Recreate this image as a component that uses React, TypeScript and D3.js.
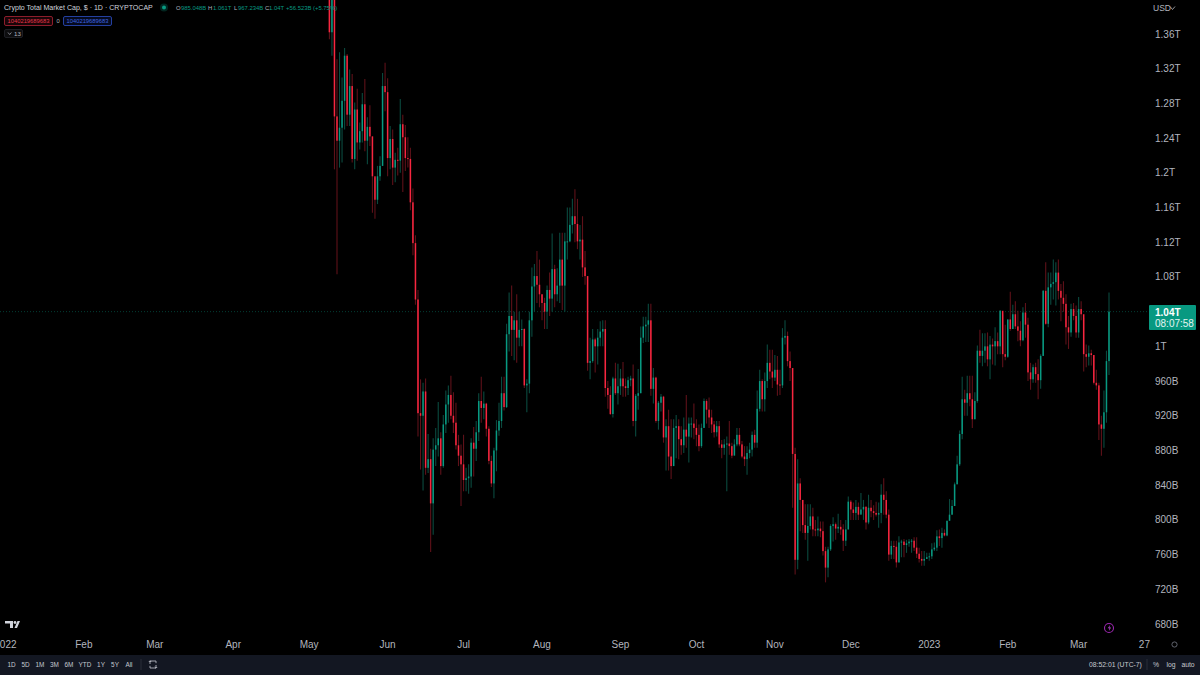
import { useRef, useEffect } from "react";
import * as d3 from "d3";

// daily candles, billions of USD, one per day from the first date on
const firstDay = "2022-05-09";
const firstOpen = 1480;

const closes = [
  1362, 1410, 1265, 1237, 1252, 1283, 1335, 1267, 1300, 1216,
  1273, 1235, 1248, 1279, 1237, 1253, 1242, 1196, 1169, 1196,
  1208, 1300, 1293, 1217, 1239, 1206, 1215, 1214, 1256, 1241,
  1217, 1216, 1166, 1119, 1054, 923, 920, 948, 860, 870,
  819, 881, 886, 894, 862, 910, 933, 944, 920, 912,
  886, 874, 864, 846, 848, 850, 889, 882, 901, 937,
  929, 934, 905, 868, 842, 880, 903, 914, 946, 930,
  1014, 1035, 1019, 1030, 1010, 1019, 1020, 955, 957, 1030,
  1069, 1081, 1071, 1060, 1050, 1040, 1065, 1055, 1089, 1060,
  1070, 1100, 1070, 1121, 1121, 1140, 1150, 1141, 1121, 1123,
  1091, 1081, 981, 983, 1008, 1000, 1010, 1017, 1020, 952,
  944, 922, 963, 946, 954, 963, 954, 952, 961, 963,
  914, 943, 946, 1010, 1023, 1025, 1030, 951, 964, 914,
  935, 942, 895, 908, 873, 862, 906, 908, 893, 886,
  904, 896, 911, 911, 906, 898, 885, 906, 937, 927,
  918, 910, 901, 908, 887, 883, 887, 888, 885, 874,
  887, 898, 887, 873, 870, 877, 881, 898, 889, 928,
  960, 939, 960, 981, 971, 964, 973, 956, 955, 1010,
  1012, 983, 975, 876, 754, 842, 823, 794, 785, 793,
  804, 789, 788, 790, 787, 764, 745, 766, 793, 795,
  790, 792, 789, 776, 789, 821, 812, 808, 815, 806,
  812, 815, 797, 814, 810, 808, 806, 808, 829, 823,
  806, 760, 770, 769, 751, 774, 775, 771, 773, 775,
  776, 768, 761, 755, 753, 755, 757, 758, 766, 768,
  781, 779, 785, 782, 799, 806, 816, 841, 864, 899,
  939, 935, 946, 939, 916, 937, 995, 989, 995, 1000,
  985, 1002, 1000, 1006, 1000, 1041, 991, 988, 1031, 1020,
  1037, 1023, 1018, 1007, 1039, 1025, 970, 962, 976, 968,
  961, 989, 1064, 1026, 1068, 1072, 1074, 1085, 1064, 1056,
  1049, 1022, 1016, 1043, 1035, 1016, 1043, 1037, 991, 988,
  992, 990, 958, 955, 910, 905, 924, 983, 1040,
];

const highs = [
  1500, 1450, 1420, 1331, 1339, 1310, 1344, 1337, 1319, 1314,
  1281, 1297, 1258, 1292, 1308, 1264, 1278, 1242, 1194, 1208,
  1219, 1315, 1327, 1309, 1254, 1250, 1223, 1229, 1285, 1267,
  1255, 1241, 1229, 1182, 1128, 1065, 962, 958, 963, 899,
  882, 894, 906, 936, 901, 921, 949, 955, 966, 947,
  935, 898, 887, 898, 860, 864, 894, 907, 914, 946,
  965, 948, 935, 908, 874, 883, 915, 935, 965, 965,
  1026, 1062, 1070, 1040, 1060, 1040, 1031, 1021, 962, 1040,
  1091, 1095, 1110, 1100, 1060, 1056, 1070, 1085, 1130, 1094,
  1090, 1131, 1131, 1131, 1160, 1160, 1170, 1181, 1170, 1140,
  1150, 1110, 1081, 1010, 1020, 1010, 1020, 1029, 1030, 1030,
  960, 954, 965, 981, 980, 974, 982, 963, 965, 966,
  979, 945, 974, 1023, 1034, 1034, 1049, 1049, 975, 965,
  937, 945, 943, 916, 927, 916, 916, 921, 916, 908,
  918, 944, 918, 918, 934, 916, 910, 911, 940, 939,
  941, 927, 914, 914, 914, 892, 893, 896, 914, 889,
  893, 906, 906, 891, 885, 885, 889, 902, 904, 949,
  973, 962, 970, 1002, 996, 996, 990, 989, 973, 1021,
  1030, 1017, 994, 975, 883, 870, 848, 823, 818, 818,
  818, 814, 800, 804, 798, 798, 769, 769, 795, 803,
  797, 807, 800, 795, 800, 827, 823, 820, 823, 820,
  831, 823, 816, 829, 823, 817, 821, 820, 841, 848,
  833, 812, 776, 776, 776, 781, 777, 778, 777, 778,
  778, 780, 780, 768, 764, 764, 762, 762, 773, 774,
  788, 789, 791, 789, 799, 824, 823, 843, 874, 903,
  965, 950, 966, 966, 966, 947, 1001, 1019, 1015, 1015,
  1016, 1012, 1009, 1022, 1016, 1042, 1037, 1025, 1031, 1063,
  1048, 1052, 1041, 1029, 1045, 1050, 1033, 981, 979, 981,
  985, 991, 1065, 1097, 1085, 1085, 1100, 1097, 1100, 1072,
  1075, 1060, 1035, 1049, 1050, 1047, 1057, 1052, 1033, 1002,
  1001, 996, 990, 973, 958, 920, 949, 995, 1062,
];

const lows = [
  1354, 1335, 1204, 1083, 1206, 1212, 1250, 1254, 1254, 1212,
  1204, 1214, 1227, 1235, 1225, 1210, 1231, 1154, 1147, 1164,
  1191, 1208, 1271, 1196, 1204, 1186, 1189, 1197, 1200, 1178,
  1202, 1206, 1157, 1105, 1048, 896, 858, 834, 852, 854,
  763, 783, 862, 873, 852, 860, 900, 912, 916, 900,
  881, 862, 816, 833, 833, 830, 837, 850, 868, 891,
  912, 916, 896, 864, 838, 825, 856, 897, 906, 926,
  929, 994, 989, 984, 981, 1000, 1000, 952, 924, 946,
  1011, 1040, 1050, 1045, 1030, 1020, 1020, 1035, 1040, 1045,
  1052, 1050, 1042, 1040, 1100, 1120, 1130, 1120, 1112, 1100,
  1080, 1071, 972, 962, 981, 970, 979, 1000, 1000, 942,
  928, 921, 918, 944, 933, 944, 942, 942, 944, 954,
  908, 896, 927, 946, 1004, 1005, 1005, 943, 934, 912,
  904, 925, 889, 857, 857, 847, 862, 871, 870, 875,
  877, 883, 866, 895, 893, 885, 879, 883, 906, 911,
  906, 900, 895, 896, 883, 871, 875, 833, 875, 871,
  875, 885, 885, 871, 862, 852, 871, 873, 883, 883,
  925, 925, 925, 952, 962, 952, 960, 943, 944, 952,
  1002, 977, 960, 814, 737, 743, 787, 785, 777, 753,
  789, 781, 781, 781, 780, 759, 728, 734, 764, 775,
  777, 785, 783, 764, 770, 789, 800, 800, 800, 800,
  807, 800, 789, 795, 803, 800, 804, 791, 796, 806,
  802, 753, 755, 755, 745, 751, 757, 757, 762, 769,
  762, 764, 756, 751, 747, 747, 755, 753, 755, 764,
  764, 770, 768, 781, 781, 799, 806, 816, 841, 862,
  893, 920, 920, 931, 906, 916, 935, 981, 977, 981,
  977, 962, 979, 978, 991, 991, 976, 984, 987, 1018,
  1020, 1020, 1006, 1000, 1006, 1010, 960, 950, 958, 958,
  939, 951, 989, 1025, 1022, 1048, 1054, 1047, 1054, 1029,
  1040, 1002, 997, 1011, 1030, 1010, 1010, 1030, 971, 976,
  978, 978, 956, 950, 892, 874, 883, 912, 967,
];

const priceTicks = [1360, 1320, 1280, 1240, 1200, 1160, 1120, 1080, 1000, 960, 920, 880, 840, 800, 760, 720, 680];
const timeTicks = [
  ["2022-01-01", "2022"], ["2022-02-01", "Feb"], ["2022-03-01", "Mar"], ["2022-04-01", "Apr"],
  ["2022-05-01", "May"], ["2022-06-01", "Jun"], ["2022-07-01", "Jul"], ["2022-08-01", "Aug"],
  ["2022-09-01", "Sep"], ["2022-10-01", "Oct"], ["2022-11-01", "Nov"], ["2022-12-01", "Dec"],
  ["2023-01-01", "2023"], ["2023-02-01", "Feb"], ["2023-03-01", "Mar"], ["2023-03-27", "27"],
];
const rangeButtons = ["1D", "5D", "1M", "3M", "6M", "YTD", "1Y", "5Y", "All"];
const lastPrice = 1040;

const FONT = "'Liberation Sans', Arial, sans-serif";
const UP = "#089981";
const DOWN = "#f7263f";
const UP_WICK = "#0a4a3f";
const DOWN_WICK = "#5e1119";
const TEXT = "#b2b5be";

const formatPrice = (v: number) => (v >= 1000 ? `${d3.format(".3~f")(v / 1000)}T` : `${v}B`);

export default function App() {
  const svgRef = useRef<SVGSVGElement>(null);

  useEffect(() => {
    const svg = d3.select(svgRef.current);
    svg.selectAll("*").remove();

    const width = 1200;
    const height = 675;
    const day = (s: string) => d3.utcParse("%Y-%m-%d")(s) as Date;

    const start = day(firstDay);
    const end = d3.utcDay.offset(start, closes.length - 1);
    const x = d3.scaleUtc().domain([start, end]).range([329.4, 1109]);
    const y = d3.scaleLinear().domain([680, 1360]).range([624, 34]);

    svg.append("rect").attr("width", width).attr("height", height).attr("fill", "#000");

    const candles = closes.map((close, i) => ({
      date: d3.utcDay.offset(start, i),
      open: i === 0 ? firstOpen : closes[i - 1],
      close,
      high: highs[i],
      low: lows[i],
    }));

    // Línea de último precio
    svg.append("line")
      .attr("x1", 0).attr("x2", 1149)
      .attr("y1", y(lastPrice)).attr("y2", y(lastPrice))
      .attr("stroke", UP).attr("stroke-opacity", 0.4)
      .attr("stroke-dasharray", "1,2");

    // Velas
    const g = svg.append("g");
    g.selectAll("line.wick")
      .data(candles)
      .join("line")
      .attr("class", "wick")
      .attr("x1", (d) => x(d.date)).attr("x2", (d) => x(d.date))
      .attr("y1", (d) => y(d.high)).attr("y2", (d) => y(d.low))
      .attr("stroke", (d) => (d.close >= d.open ? UP_WICK : DOWN_WICK))
      .attr("stroke-width", 1.1);
    g.selectAll("rect.body")
      .data(candles)
      .join("rect")
      .attr("class", "body")
      .attr("x", (d) => x(d.date) - 0.75)
      .attr("width", 1.5)
      .attr("y", (d) => y(Math.max(d.open, d.close)))
      .attr("height", (d) => Math.max(1, Math.abs(y(d.open) - y(d.close))))
      .attr("fill", (d) => (d.close >= d.open ? UP : DOWN));

    // Eje de precios
    const label = (sel: any, tx: number, ty: number, text: string, size = 10, fill = TEXT, anchor = "start") =>
      sel.append("text")
        .attr("x", tx).attr("y", ty)
        .attr("font-family", FONT).attr("font-size", size)
        .attr("fill", fill).attr("text-anchor", anchor)
        .text(text);

    priceTicks.forEach((p) => {
      label(svg, 1155, y(p) + 3.5, formatPrice(p));
    });
    label(svg, 1153, 11, "USD", 8.5);
    svg.append("path").attr("d", "M1170 6.5l2.5 3 2.5-3").attr("fill", "none").attr("stroke", TEXT).attr("stroke-width", 0.8);

    // Eje de tiempo
    timeTicks.forEach(([d, t]) => {
      label(svg, x(day(d)), 647.5, t, 10, TEXT, "middle");
    });

    // Etiqueta de último precio
    svg.append("rect").attr("x", 1149).attr("y", 305).attr("width", 47).attr("height", 25).attr("rx", 1).attr("fill", UP);
    label(svg, 1155, 316, formatPrice(lastPrice), 10, "#fff").attr("font-weight", "bold");
    label(svg, 1155, 327, "08:07:58", 10, "#e4f5f1");

    // Leyenda
    label(svg, 4, 10, "Crypto Total Market Cap, $ · 1D · CRYPTOCAP", 7.05, "#d1d4dc");
    svg.append("circle").attr("cx", 164).attr("cy", 7.5).attr("r", 4).attr("fill", UP).attr("fill-opacity", 0.25);
    svg.append("circle").attr("cx", 164).attr("cy", 7.5).attr("r", 2).attr("fill", UP);
    const ohlc = [
      [176, "O"], [181, "985.048B"], [208, "H"], [213, "1.061T"], [234, "L"], [238, "967.234B"],
      [265, "C"], [269, "1.04T"], [286, "+56.523B (+5.75%)"],
    ] as [number, string][];
    ohlc.forEach(([tx, t]) => {
      label(svg, tx, 10, t, 5.9, t.length === 1 ? "#b2b5be" : UP);
    });

    svg.append("rect").attr("x", 4.5).attr("y", 16.5).attr("width", 48).attr("height", 9).attr("rx", 1.5)
      .attr("fill", "#1a0508").attr("stroke", "#8d1d2c");
    label(svg, 28.5, 23.3, "1040219689683", 5.8, "#e5354c", "middle");
    label(svg, 58, 23.3, "0", 5.8, TEXT, "middle");
    svg.append("rect").attr("x", 63.5).attr("y", 16.5).attr("width", 48).attr("height", 9).attr("rx", 1.5)
      .attr("fill", "#050a1e").attr("stroke", "#2440a0");
    label(svg, 87.5, 23.3, "1040219689683", 5.8, "#3e66e0", "middle");
    svg.append("rect").attr("x", 4.5).attr("y", 29.5).attr("width", 18).attr("height", 8).attr("rx", 1.5)
      .attr("fill", "#0d0d0f").attr("stroke", "#1e1f24");
    svg.append("path").attr("d", "M8 32.5l1.7 2 1.7-2").attr("fill", "none").attr("stroke", TEXT).attr("stroke-width", 0.7);
    label(svg, 14, 36.3, "13", 6.2);

    // Logo
    svg.append("path").attr("d", "M5 621h8v7h-3v-4.5H5zM14.5 628l3-7H20l-3 7z").attr("fill", "#d1d4dc");
    svg.append("circle").attr("cx", 15).attr("cy", 622.5).attr("r", 1.4).attr("fill", "#d1d4dc");

    // Iconos
    svg.append("circle").attr("cx", 1109).attr("cy", 628).attr("r", 4.5).attr("fill", "none").attr("stroke", "#9c27b0").attr("stroke-width", 1.1);
    svg.append("path").attr("d", "M1110 625l-2.2 3.3h1.6l-.5 2.6 2.2-3.4h-1.6z").attr("fill", "#b040c8");
    svg.append("circle").attr("cx", 1174.5).attr("cy", 644.5).attr("r", 2.6).attr("fill", "none").attr("stroke", "#6a6d78").attr("stroke-width", 0.9);

    // Barra inferior
    svg.append("rect").attr("x", 0).attr("y", 655).attr("width", width).attr("height", 20).attr("fill", "#131722");
    const btnX = [11.5, 25.5, 40, 54.5, 69, 85, 101, 115, 129];
    rangeButtons.forEach((t, i) => {
      label(svg, btnX[i], 666.5, t, 6.4, "#c5c8d0", "middle");
    });
    svg.append("line").attr("x1", 141).attr("x2", 141).attr("y1", 659).attr("y2", 670).attr("stroke", "#2a2e39");
    svg.append("path")
      .attr("d", "M150 661h6v2.2M150 661v3M156 668h-6v-2.2M156 668v-3M148.8 662l1.2-1.2 1.2 1.2M154.8 667l1.2 1.2 1.2-1.2")
      .attr("fill", "none").attr("stroke", "#c5c8d0").attr("stroke-width", 0.8);
    label(svg, 1089, 666.5, "08:52:01 (UTC-7)", 6.8, "#c5c8d0");
    svg.append("line").attr("x1", 1147).attr("x2", 1147).attr("y1", 659).attr("y2", 670).attr("stroke", "#2a2e39");
    label(svg, 1156, 666.5, "%", 6.8, "#c5c8d0", "middle");
    label(svg, 1171, 666.5, "log", 6.8, "#c5c8d0", "middle");
    label(svg, 1188, 666.5, "auto", 6.8, "#c5c8d0", "middle");
  }, []);

  return (
    <svg
      ref={svgRef}
      width={1200}
      height={675}
      style={{ position: "absolute", left: 0, top: 0, display: "block" }}
    ></svg>
  );
}
